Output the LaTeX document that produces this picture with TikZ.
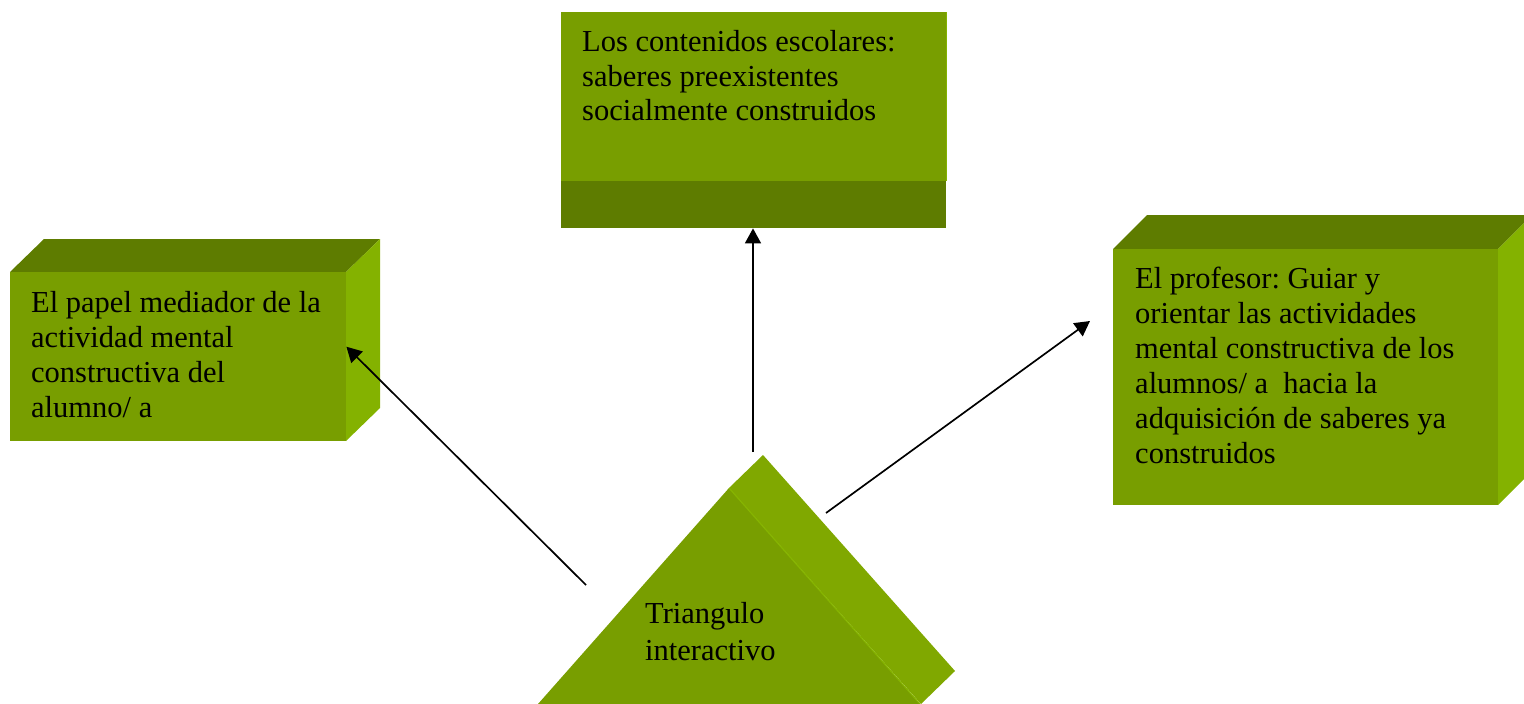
\documentclass[tikz,border=0pt]{standalone}
\usepackage{fontspec}
\setmainfont{Liberation Serif}
\usetikzlibrary{arrows.meta}
\definecolor{frontc}{HTML}{789E00}
\definecolor{topc}{HTML}{5E7C00}
\definecolor{sidec}{HTML}{84B200}
\definecolor{triside}{HTML}{80A800}
\definecolor{triedge}{HTML}{86B400}
\tikzset{
  facebox/.style={fill=frontc, draw=none, inner sep=0pt, anchor=north west},
  boxtext/.style={inner sep=0pt, anchor=base west, text width=420pt, align=flush left,
    font=\fontsize{30.5}{35}\selectfont\frenchspacing},
  arr/.style={draw=black, line width=1.7pt, -{Triangle[length=15pt,width=16pt]}}
}
\begin{document}
\begin{tikzpicture}[x=1pt,y=-1pt]
\useasboundingbox (0,0) rectangle (1524,704);
\begin{scope}
\clip (0,0) rectangle (1524,704);
% left box
\fill[topc] (10,272) -- (44,239) -- (380,239) -- (346,272) -- cycle;
\fill[sidec] (346,272) -- (380,239) -- (380,408) -- (346,441) -- cycle;
\node[facebox, minimum width=336pt, minimum height=169pt] (lbox) at (10,272) {};
% top box
\node[facebox, minimum width=385pt, minimum height=169pt] (tbox) at (561,12) {};
\node[facebox, fill=topc, minimum width=385pt, minimum height=47pt] (tstrip) at (561,181) {};
\draw[sidec, line width=1pt] (tbox.north east) -- (tbox.south east);
% right box
\fill[topc] (1113,249) -- (1147,215) -- (1532,215) -- (1498,249) -- cycle;
\fill[sidec] (1498,249) -- (1532,215) -- (1532,471) -- (1498,505) -- cycle;
\node[facebox, minimum width=385pt, minimum height=256pt] (rbox) at (1113,249) {};
% triangle
\fill[triside] (729,488) -- (763,455) -- (955,671) -- (921,704) -- cycle;
\fill[frontc] (729,488) -- (538,704) -- (920,704) -- cycle;
\draw[triedge, line width=1.2pt] (729,488) -- (920,704);
\end{scope}
% texts
\node[boxtext] (ltext) at (31,312) {El papel mediador de la\\actividad mental\\constructiva del\\alumno/ a};
\node[boxtext] (ttext) at (582,51) {Los contenidos escolares:\\saberes preexistentes\\socialmente construidos};
\node[boxtext] (rtext) at (1135,288) {El profesor: Guiar y\\orientar las actividades\\mental constructiva de los\\alumnos/ a\ \ hacia la\\adquisición de saberes ya\\construidos};
\node[boxtext, text width=200pt, font=\fontsize{30.5}{37}\selectfont] (tri) at (645,623) {Triangulo\\interactivo};
% connector ends
\coordinate (fromL) at (586,585);
\coordinate (fromT) at (753,452);
\coordinate (fromR) at (826,513);
\coordinate (toR) at (1090,321);
\draw[arr] (fromL) -- ([yshift=10pt]lbox.east);
\draw[arr] (fromT) -- (fromT |- tstrip.south);
\draw[arr] (fromR) -- (toR);
\end{tikzpicture}
\end{document}
